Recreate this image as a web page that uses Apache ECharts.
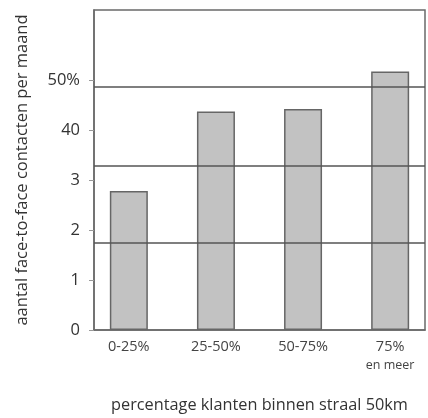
<html>
  <head>
    <meta charset="UTF-8" />
    <script src="https://cdn.jsdelivr.net/npm/echarts@6/dist/echarts.min.js"></script>
    <style>
      html, body { margin: 0; padding: 0; background: #fff; }
      #main { width: 428px; height: 418px; }
    </style>
  </head>
  <body>
    <div id="main"></div>
    <script>
      // categories along the x axis
      const categories = ['0-25%', '25-50%', '50-75%', '75%\nen meer'];
      // bar heights (contacts per month)
      const values = [2.78, 4.37, 4.42, 5.17];
      // y tick labels as printed
      const yTickValues = [0, 1, 2, 3, 4, 5];
      const yTickLabels = ['0', '1', '2', '3', '40', '50%'];
      // the horizontal lines across the plot
      const refLines = [1.75, 3.28, 4.87];

      const textFont = 'Open Sans';
      var chart = echarts.init(document.getElementById('main'));
      var option = {
        animation: false,
        grid: {
          left: 94, right: 3, top: 10, bottom: 78,
          show: true, borderColor: '#6a6a6a', borderWidth: 1.5
        },
        xAxis: {
          type: 'value',
          min: -0.4,
          max: 3.4,
          name: 'percentage klanten binnen straal 50km',
          nameLocation: 'middle',
          nameGap: 67,
          nameTextStyle: { fontFamily: textFont, fontSize: 16.3, color: '#333' },
          axisLine: { show: true, onZero: false, lineStyle: { color: '#6a6a6a', width: 1.5 } },
          axisTick: { show: false },
          splitLine: { show: false },
          axisLabel: {
            customValues: [0, 1, 2, 3],
            formatter: function (v) {
              // second line (if any) is printed smaller
              var parts = categories[Math.round(v)].split('\n');
              return parts.length > 1 ? parts[0] + '\n{s|' + parts[1] + '}' : parts[0];
            },
            fontFamily: textFont, fontSize: 14.5, color: '#444',
            lineHeight: 18, margin: 8,
            rich: { s: { fontFamily: textFont, fontSize: 12.5, color: '#444', lineHeight: 18 } }
          }
        },
        yAxis: {
          type: 'value',
          min: 0,
          max: 6.4,
          name: 'aantal face-to-face contacten per maand',
          nameLocation: 'middle',
          nameGap: 63,
          nameTextStyle: { fontFamily: textFont, fontSize: 16.5, color: '#333' },
          axisLine: { show: true, onZero: false, lineStyle: { color: '#6a6a6a', width: 1.5 } },
          axisTick: {
            show: true, length: 5, customValues: yTickValues,
            lineStyle: { color: '#999' }
          },
          splitLine: { show: false },
          axisLabel: {
            customValues: yTickValues,
            formatter: function (v) { return yTickLabels[yTickValues.indexOf(Math.round(v))]; },
            fontFamily: textFont, fontSize: 16.5, color: '#333', margin: 14
          }
        },
        series: [
          {
            type: 'bar',
            barWidth: 38,
            data: values.map(function (v, i) { return [i, v]; }),
            itemStyle: { color: '#c2c2c2', borderColor: '#666', borderWidth: 1.5 },
            markLine: {
              silent: true,
              symbol: 'none',
              label: { show: false },
              lineStyle: { color: '#555', width: 1.5, type: 'solid' },
              data: refLines.map(function (v) { return { yAxis: v }; })
            }
          }
        ]
      };
      chart.setOption(option);
    </script>
  </body>
</html>
